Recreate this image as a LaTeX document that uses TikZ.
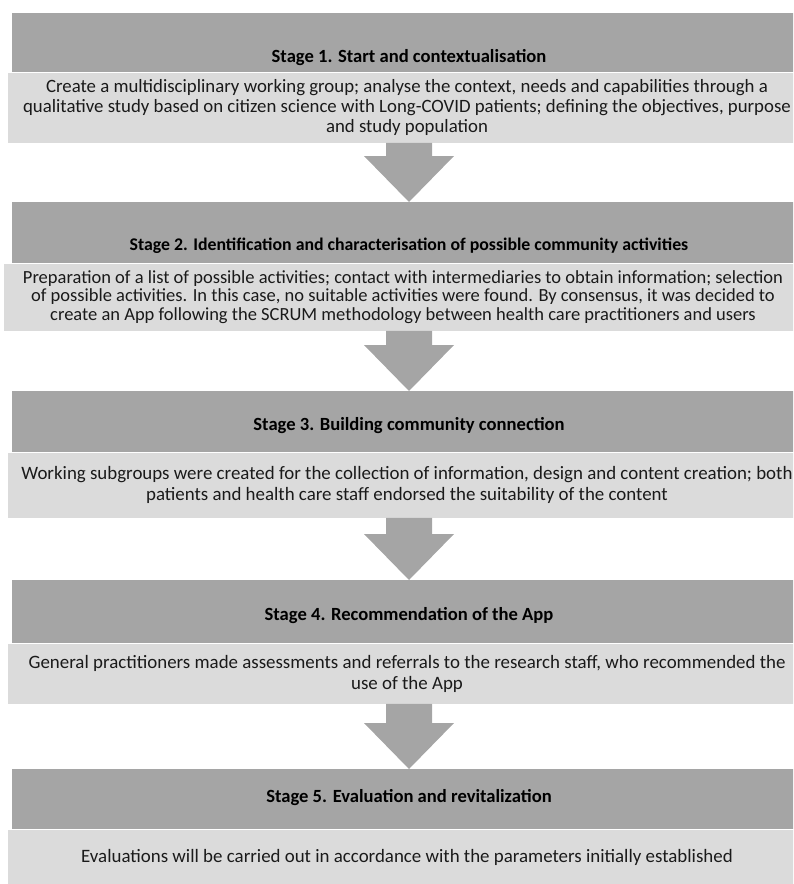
\documentclass[tikz,border=0pt]{standalone}
\usepackage{fontspec}
\setmainfont{Carlito}
\usetikzlibrary{calc}
\definecolor{stagegray}{HTML}{A5A5A5}
\definecolor{bodygray}{HTML}{DBDBDB}
\definecolor{inkgray}{HTML}{1A1A1A}

\begin{document}
\begin{tikzpicture}[x=1pt, y=1pt,
    stagehead/.style={fill=stagegray, minimum width=794pt, inner sep=0pt, anchor=north, align=center, font=\fontsize{18.6}{20}\selectfont\bfseries},
    stagebody/.style={fill=bodygray, minimum width=798pt, inner sep=0pt, anchor=north, align=center, text=inkgray},
    blockarrow/.style={fill=stagegray}]
    \clip (0, 0) rectangle (793, -884);
    % stage 1
    \node[stagehead, text height=49pt, text depth=10pt] (s1) at (409, -13) {Stage 1. Start and contextualisation};
    \node[stagebody, minimum height=70pt, font=\fontsize{18.8}{20}\selectfont] (b1) at ([xshift=-2pt]s1.south) {Create a multidisciplinary working group; analyse the context, needs and capabilities through a\\qualitative study based on citizen science with Long-COVID patients; defining the objectives, purpose\\and study population};
    % stage 2
    \node[stagehead, text height=48pt, text depth=13pt, font=\fontsize{17.8}{20}\selectfont\bfseries] (s2) at (409, -202) {Stage 2. Identification and characterisation of possible community activities};
    \node[stagebody, minimum height=67pt, font=\fontsize{18.5}{18.5}\selectfont] (b2) at ([xshift=-6pt]s2.south) {Preparation of a list of possible activities; contact with intermediaries to obtain information; selection\\of possible activities. In this case, no suitable activities were found. By consensus, it was decided to\\create an App following the SCRUM methodology between health care practitioners and users};
    % stage 3
    \node[stagehead, text height=39pt, text depth=22pt] (s3) at (409, -391) {Stage 3. Building community connection};
    \node[stagebody, minimum height=65pt, font=\fontsize{18.9}{21}\selectfont] (b3) at ([xshift=-2pt]s3.south) {Working subgroups were created for the collection of information, design and content creation; both\\patients and health care staff endorsed the suitability of the content};
    % stage 4
    \node[stagehead, text height=40pt, text depth=23pt] (s4) at (409, -580) {Stage 4. Recommendation of the App};
    \node[stagebody, minimum height=60pt, font=\fontsize{18.9}{21}\selectfont] (b4) at ([xshift=-2pt]s4.south) {General practitioners made assessments and referrals to the research staff, who recommended the\\use of the App};
    % stage 5
    \node[stagehead, text height=33pt, text depth=27pt] (s5) at (409, -769) {Stage 5. Evaluation and revitalization};
    \node[stagebody, minimum height=55pt, font=\fontsize{18.9}{21}\selectfont] (b5) at ([xshift=-2pt]s5.south) {Evaluations will be carried out in accordance with the parameters initially established};
    % arrows between the stages
    \foreach \from/\to in {b1/s2, b2/s3, b3/s4, b4/s5}
        \fill[blockarrow] ($(\from.south -| \to.north)+(-23, 0)$) -- ($(\to.north)+(-23, 46)$) -- ($(\to.north)+(-45, 46)$) -- (\to.north)
            -- ($(\to.north)+(45, 46)$) -- ($(\to.north)+(23, 46)$) -- ($(\from.south -| \to.north)+(23, 0)$) -- cycle;
\end{tikzpicture}
\end{document}
